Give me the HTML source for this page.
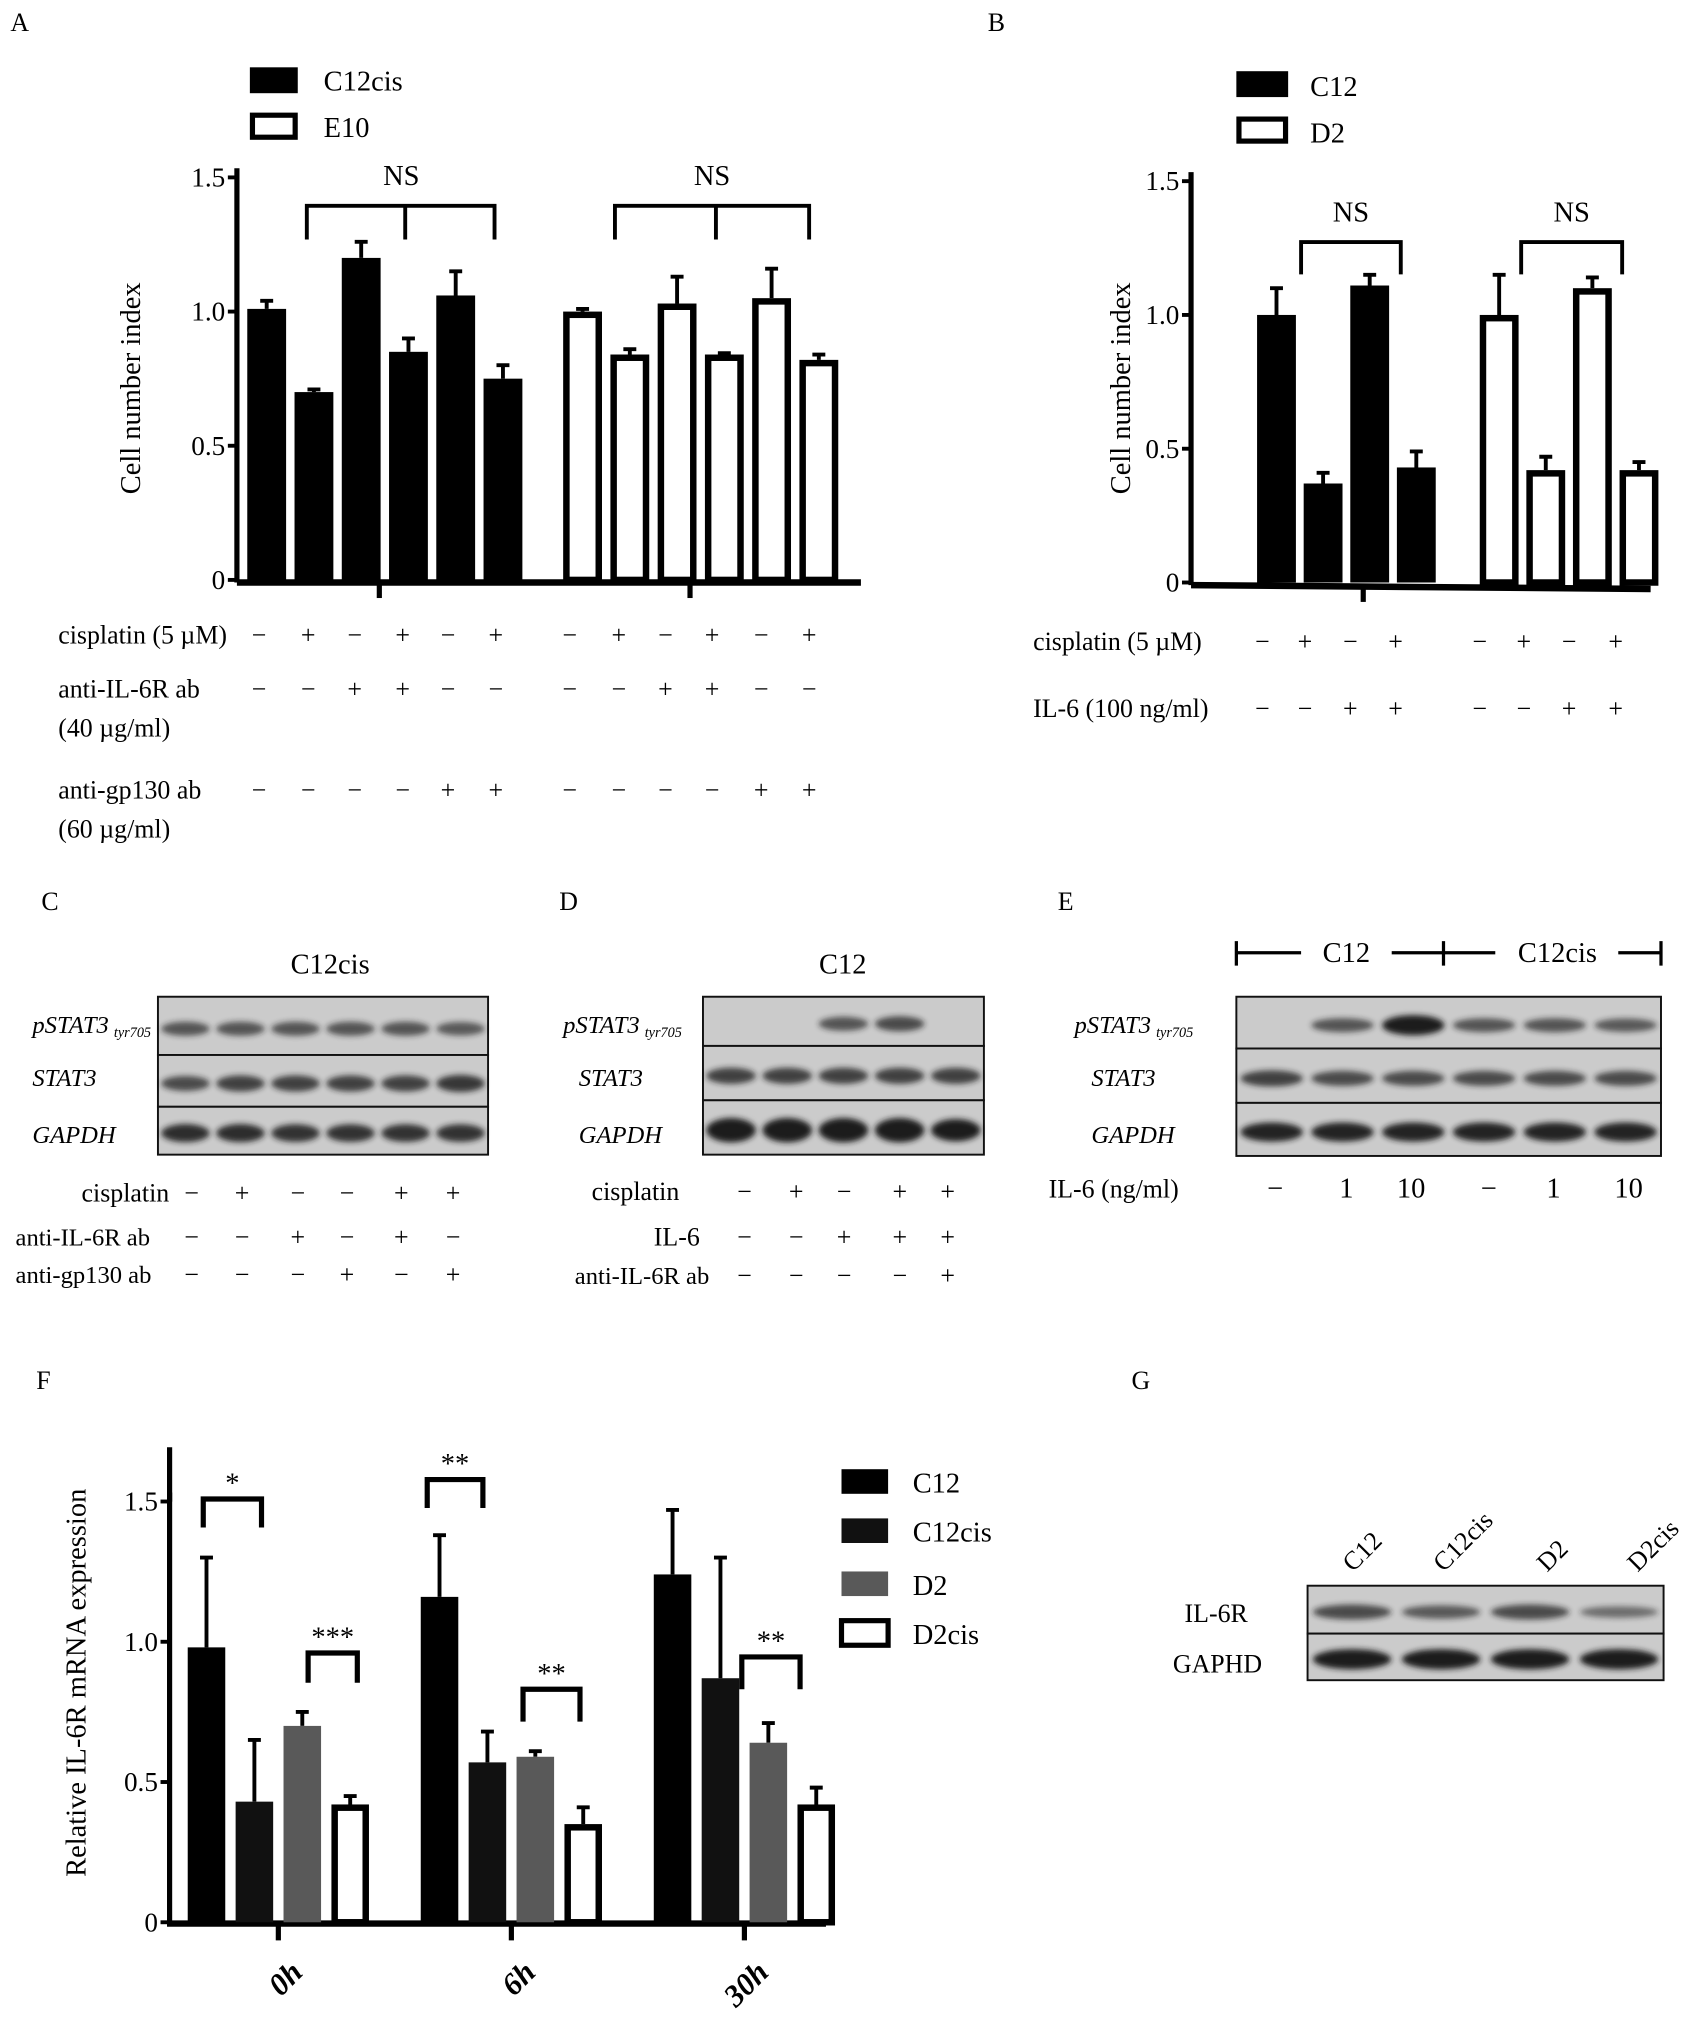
<!DOCTYPE html>
<html><head><meta charset="utf-8"><style>
html,body{margin:0;padding:0;background:#fff;}
svg{display:block;font-family:"Liberation Serif","Times New Roman",Times,serif;}
svg text{font-family:"Liberation Serif","Times New Roman",Times,serif;fill:#000;}
</style></head><body>
<svg id="fig" width="1683" height="2031" viewBox="0 0 1300 1569" preserveAspectRatio="none" xmlns="http://www.w3.org/2000/svg" font-family="Liberation Serif, Times New Roman, serif">
<defs><filter id="bl" x="-20%" y="-100%" width="140%" height="300%"><feGaussianBlur stdDeviation="2.2"/></filter></defs>
<g id="g"></g>
</svg>
<script>
// ---------- data ----------
const aBlack = [1.01, 0.70, 1.20, 0.85, 1.06, 0.75];
const aBlackErr = [0.03, 0.01, 0.06, 0.05, 0.09, 0.05];
const aWhite = [1.00, 0.84, 1.03, 0.84, 1.05, 0.82];
const aWhiteErr = [0.01, 0.02, 0.10, 0.005, 0.11, 0.02];
const bBlack = [1.00, 0.37, 1.11, 0.43];
const bBlackErr = [0.10, 0.04, 0.04, 0.06];
const bWhite = [1.00, 0.42, 1.10, 0.42];
const bWhiteErr = [0.15, 0.05, 0.04, 0.03];
const fCategories = ["0h", "6h", "30h"];
const fSeries = ["C12", "C12cis", "D2", "D2cis"];
const fC12 = [0.98, 1.16, 1.24];
const fC12Err = [0.32, 0.22, 0.23];
const fC12cis = [0.43, 0.57, 0.87];
const fC12cisErr = [0.22, 0.11, 0.43];
const fD2 = [0.70, 0.59, 0.64];
const fD2Err = [0.05, 0.02, 0.07];
const fD2cis = [0.42, 0.35, 0.42];
const fD2cisErr = [0.03, 0.06, 0.06];
const yTicks = [0, 0.5, 1.0, 1.5];
const yTickLabels = ["0", "0.5", "1.0", "1.5"];

const NS = "http://www.w3.org/2000/svg";
const FF = "Liberation Serif, Times New Roman, serif";
const G = document.getElementById('g');
function el(tag, attrs, parent, txt){
  const e = document.createElementNS(NS, tag);
  for (const k in attrs) e.setAttribute(k, attrs[k]);
  if (txt !== undefined) e.textContent = txt;
  (parent || G).appendChild(e);
  return e;
}
function T(x, y, s, size, name, extra){
  const a = {x:x, y:y, 'font-size':size||20, 'font-family':FF};
  if (extra) for (const k in extra) a[k] = extra[k];
  const t = el('text', a, null, s);
  
  
  return t;
}
function line(x1,y1,x2,y2,w,name){
  const l = el('line',{x1:x1,y1:y1,x2:x2,y2:y2,stroke:'#000','stroke-width':w||3});
  
  
  return l;
}
function bar(x, w, y0, y1, fill, name, bw){
  const r = el('rect',{x:x-w/2+(bw||0)/2, y:y1+(bw||0)/2, width:w-(bw||0), height:Math.max(0,y0-y1-(bw||0)/2), fill:fill, stroke:bw?'#000':'none','stroke-width':bw||0});
  
  
}
function err(x, yv, ye, name){
  const l = el('path',{d:`M${x},${yv}V${ye}M${x-5},${ye}H${x+5}`,stroke:'#000','stroke-width':3,fill:'none'});
  
  
}
function yAxis(x, y0, y1, scale, name){
  line(x, y1-7, x, y0+2, 4, name);
  yTicks.forEach((v,i)=>{
    const y = scale(v);
    line(x-7, y, x, y, 3, name+'-tick');
    T(x-9, y+7, yTickLabels[i], 21, name+'-label', {'text-anchor':'end'});
  });
}

// ---------- panel A ----------
T(8, 24, "A", 20, "panel-a-label");
const yA = v => 448 - v*207.3;
const xA = (g,i) => (g===0?206:450) + i*36.5;
yAxis(183, 448, 137, yA, 'a-y-axis');
line(183, 450, 665, 450, 5, 'a-x-axis');
line(293, 450, 293, 462, 4, 'a-x-tick'); line(533, 450, 533, 462, 4, 'a-x-tick');
aBlack.forEach((v,i)=>{ const x=xA(0,i); err(x, yA(v), yA(v+aBlackErr[i]), 'a-error-bar'); bar(x, 30, 448, yA(v), '#000', 'a-bar-c12cis'); });
aWhite.forEach((v,i)=>{ const x=xA(1,i); err(x, yA(v), yA(v+aWhiteErr[i]), 'a-error-bar'); bar(x, 30, 448, yA(v), '#fff', 'a-bar-e10', 5); });
T(108, 300, "Cell number index", 22, "a-y-axis-title", {transform:'rotate(-90 108 300)', 'text-anchor':'middle'});
el('rect',{x:193,y:52,width:37,height:20,fill:'#000'});
el('rect',{x:195,y:89,width:33,height:17,fill:'#fff',stroke:'#000','stroke-width':4});
T(250, 70, "C12cis", 22, "legend-c12cis");
T(250, 106, "E10", 22, "legend-e10");
[[237,313,382],[475,553,625]].forEach(b=>{
  el('path',{d:`M${b[0]},185V159H${b[2]}V185M${b[1]},159V185`,stroke:'#000','stroke-width':3,fill:'none'});
  T(b[1]-3, 143, "NS", 22, "a-ns-label", {'text-anchor':'middle'});
});
const aCis = ["−","+","−","+","−","+"], aIL = ["−","−","+","+","−","−"], aGp = ["−","−","−","−","+","+"];
const aSignX = [200,238,274,311,346,383,440,478,514,550,588,625];
T(45, 497, "cisplatin  (5 µM)", 20, "a-row-cisplatin");
T(45, 539, "anti-IL-6R ab", 20, "a-row-anti-il6r");
T(45, 569, "(40 µg/ml)", 20, "a-row-anti-il6r-conc");
T(45, 617, "anti-gp130 ab", 20, "a-row-anti-gp130");
T(45, 647, "(60 µg/ml)", 20, "a-row-anti-gp130-conc");
aSignX.forEach((x,i)=>{
  T(x, 497, aCis[i%6], 20, "a-sign", {'text-anchor':'middle'});
  T(x, 539, aIL[i%6], 20, "a-sign", {'text-anchor':'middle'});
  T(x, 617, aGp[i%6], 20, "a-sign", {'text-anchor':'middle'});
});

// ---------- panel B ----------
T(763, 24, "B", 20, "panel-b-label");
const yB = v => 450 - v*206.7;
const xB = (g,i) => (g===0?986:1158) + i*36;
yAxis(920, 450, 140, yB, 'b-y-axis');
line(920, 452, 1275, 455, 5, 'b-x-axis');
line(1053, 452, 1053, 465, 4, 'b-x-tick');
bBlack.forEach((v,i)=>{ const x=xB(0,i); err(x, yB(v), yB(v+bBlackErr[i]), 'b-error-bar'); bar(x, 30, 450, yB(v), '#000', 'b-bar-c12'); });
bWhite.forEach((v,i)=>{ const x=xB(1,i); err(x, yB(v), yB(v+bWhiteErr[i]), 'b-error-bar'); bar(x, 30, 450, yB(v), '#fff', 'b-bar-d2', 5); });
T(873, 300, "Cell number index", 22, "b-y-axis-title", {transform:'rotate(-90 873 300)', 'text-anchor':'middle'});
el('rect',{x:955,y:55,width:40,height:20,fill:'#000'});
el('rect',{x:957,y:92,width:36,height:17,fill:'#fff',stroke:'#000','stroke-width':4});
T(1012, 74, "C12", 22, "legend-c12");
T(1012, 110, "D2", 22, "legend-d2");
[[1005,1082],[1175,1253]].forEach(b=>{
  el('path',{d:`M${b[0]},212V187H${b[1]}V212`,stroke:'#000','stroke-width':3,fill:'none'});
  T((b[0]+b[1])/2, 171, "NS", 22, "b-ns-label", {'text-anchor':'middle'});
});
const bCis = ["−","+","−","+"], bIL = ["−","−","+","+"];
const bSignX = [975,1008,1043,1078,1143,1177,1212,1248];
T(798, 502, "cisplatin (5 µM)", 20, "b-row-cisplatin");
T(798, 554, "IL-6  (100 ng/ml)", 20, "b-row-il6");
bSignX.forEach((x,i)=>{
  T(x, 502, bCis[i%4], 20, "b-sign", {'text-anchor':'middle'});
  T(x, 554, bIL[i%4], 20, "b-sign", {'text-anchor':'middle'});
});

// ---------- blots ----------
function blot(x, y, w, rows, lanes, bands, name){
  const g = el('g',{});
  
  
  let yy = y;
  rows.forEach((h, r)=>{
    const rr = el('rect',{x:x,y:yy,width:w,height:h,fill:'#cbcbcb',stroke:'#111','stroke-width':1.5},g);
    
    const lw = w/lanes;
    bands[r].forEach((b,i)=>{
      if (b<=0) return;
      const e = el('ellipse',{cx:x+lw*(i+0.5), cy:yy+h*0.55, rx:lw*0.44, ry:3+b*4, fill:'#1a1a1a', opacity:Math.min(1,0.35+b*0.55), filter:'url(#bl)'},g);
      
    });
    yy += h;
  });
}
T(32, 703, "C", 20, "panel-c-label");
T(255, 752, "C12cis", 22, "c-title", {'text-anchor':'middle'});
blot(122, 770, 255, [45,40,37], 6, [[.6,.6,.6,.6,.6,.55],[.7,.8,.8,.8,.8,.9],[1,1,.95,.95,.95,.95]], 'c-blot');
T(25, 798, "pSTAT3", 19, "c-label-pstat3", {'font-style':'italic'}); T(88, 801, "tyr705", 11, "c-label-sub", {'font-style':'italic'});
T(25, 839, "STAT3", 19, "c-label-stat3", {'font-style':'italic'});
T(25, 883, "GAPDH", 19, "c-label-gapdh", {'font-style':'italic'});
const cX = [148,187,230,268,310,350];
const cCis=["−","+","−","−","+","+"], cIL=["−","−","+","−","+","−"], cGp=["−","−","−","+","−","+"];
T(63, 928, "cisplatin", 20, "c-row-cisplatin");
T(12, 962, "anti-IL-6R ab", 19, "c-row-anti-il6r");
T(12, 991, "anti-gp130 ab", 19, "c-row-anti-gp130");
cX.forEach((x,i)=>{T(x,928,cCis[i],20,"c-sign",{'text-anchor':'middle'});T(x,962,cIL[i],20,"c-sign",{'text-anchor':'middle'});T(x,991,cGp[i],20,"c-sign",{'text-anchor':'middle'});});
T(432, 703, "D", 20, "panel-d-label");
T(651, 752, "C12", 22, "d-title", {'text-anchor':'middle'});
blot(543, 770, 217, [38,42,42], 5, [[0,0,.6,.7,0],[.8,.8,.8,.8,.8],[1.6,1.6,1.6,1.6,1.4]], 'd-blot');
T(435, 798, "pSTAT3", 19, "d-label-pstat3", {'font-style':'italic'}); T(498, 801, "tyr705", 11, "d-label-sub", {'font-style':'italic'});
T(447, 839, "STAT3", 19, "d-label-stat3", {'font-style':'italic'});
T(447, 883, "GAPDH", 19, "d-label-gapdh", {'font-style':'italic'});
const dX=[575,615,652,695,732];
const dCis=["−","+","−","+","+"], dIL=["−","−","+","+","+"], dAb=["−","−","−","−","+"];
T(457, 927, "cisplatin", 20, "d-row-cisplatin");
T(505, 962, "IL-6", 20, "d-row-il6");
T(444, 992, "anti-IL-6R ab", 19, "d-row-anti-il6r");
dX.forEach((x,i)=>{T(x,927,dCis[i],20,"d-sign",{'text-anchor':'middle'});T(x,962,dIL[i],20,"d-sign",{'text-anchor':'middle'});T(x,992,dAb[i],20,"d-sign",{'text-anchor':'middle'});});
T(817, 703, "E", 20, "panel-e-label");
el('path',{d:'M955,727V746M955,736H1005M1075,736H1155M1115,727V746M1250,736H1283M1283,727V746',stroke:'#000','stroke-width':2.5,fill:'none'});
T(1040, 743, "C12", 22, "e-group-c12", {'text-anchor':'middle'});
T(1203, 743, "C12cis", 22, "e-group-c12cis", {'text-anchor':'middle'});
blot(955, 770, 328, [40,42,41], 6, [[0,.6,1.2,.6,.6,.55],[.8,.7,.7,.7,.7,.7],[1.1,1.1,1.1,1.1,1.1,1.1]], 'e-blot');
T(830, 798, "pSTAT3", 19, "e-label-pstat3", {'font-style':'italic'}); T(893, 801, "tyr705", 11, "e-label-sub", {'font-style':'italic'});
T(843, 839, "STAT3", 19, "e-label-stat3", {'font-style':'italic'});
T(843, 883, "GAPDH", 19, "e-label-gapdh", {'font-style':'italic'});
T(810, 925, "IL-6  (ng/ml)", 20, "e-row-il6");
const eX=[985,1040,1090,1150,1200,1258], eV=["−","1","10","−","1","10"];
eX.forEach((x,i)=>T(x,925,eV[i],22,"e-dose",{'text-anchor':'middle'}));

// ---------- panel F ----------
T(28, 1073, "F", 20, "panel-f-label");
const yF = v => 1485 - v*216.7;
const fCenter = [215, 395, 575];
const fFill = ['#000','#111','#595959','#fff'];
const fVals = [fC12, fC12cis, fD2, fD2cis];
const fErrs = [fC12Err, fC12cisErr, fD2Err, fD2cisErr];
const xF = (c,s) => fCenter[c] + (s-1.5)*37;
yAxis(131, 1485, 1160, yF, 'f-y-axis');
line(131, 1118, 131, 1160, 4, 'f-y-axis');
line(129, 1486, 638, 1486, 5, 'f-x-axis');
fCategories.forEach((c,ci)=>{
  line(fCenter[ci], 1486, fCenter[ci], 1499, 4, 'f-x-tick');
  T(fCenter[ci]+20,1525,c,24,"f-x-label",{'font-style':'italic','font-weight':'bold','text-anchor':'end',transform:`rotate(-45 ${fCenter[ci]+20} 1525)`});
  fSeries.forEach((s,si)=>{
    const x = xF(ci,si), v = fVals[si][ci];
    err(x, yF(v), yF(v+fErrs[si][ci]), 'f-error-bar');
    bar(x, 29, 1485, yF(v), fFill[si], 'f-bar-'+s.toLowerCase(), si===3?5:0);
  });
});
T(66,1300,"Relative IL-6R mRNA expression",22,"f-y-axis-title",{transform:'rotate(-90 66 1300)','text-anchor':'middle'});
[[157,202,1158,1180,"*"],[238,276,1277,1300,"***"],[330,373,1143,1165,"**"],[404,448,1305,1330,"**"],[573,618,1280,1305,"**"]].forEach(b=>{
  el('path',{d:`M${b[0]},${b[3]}V${b[2]}H${b[1]}V${b[3]}`,stroke:'#000','stroke-width':4,fill:'none'});
  T((b[0]+b[1])/2, b[2]-5, b[4], 22, "f-sig-label", {'text-anchor':'middle'});
});
[[1133,'#000',"C12"],[1171,'#111',"C12cis"],[1212,'#595959',"D2"],[1250,'#fff',"D2cis"]].forEach((l,i)=>{
  const r = el('rect',{x:650,y:l[0]+2,width:36,height:19,fill:l[1],stroke:'#000','stroke-width':i===3?4:0});
  
  T(705, l[0]+20, l[2], 22, "f-legend-"+l[2].toLowerCase());
});

// ---------- panel G ----------
T(874, 1073, "G", 20, "panel-g-label");
[["C12",1045],["C12cis",1115],["D2",1195],["D2cis",1265]].forEach(l=>{
  T(l[1],1215,l[0],20,"g-lane-label",{transform:`rotate(-45 ${l[1]} 1215)`});
});
blot(1010, 1225, 275, [37,36], 4, [[.7,.55,.7,.35],[1.2,1.2,1.2,1.2]], 'g-blot');
T(915, 1253, "IL-6R", 20, "g-label-il6r");
T(906, 1292, "GAPHD", 20, "g-label-gapdh");
</script>
</body></html>
